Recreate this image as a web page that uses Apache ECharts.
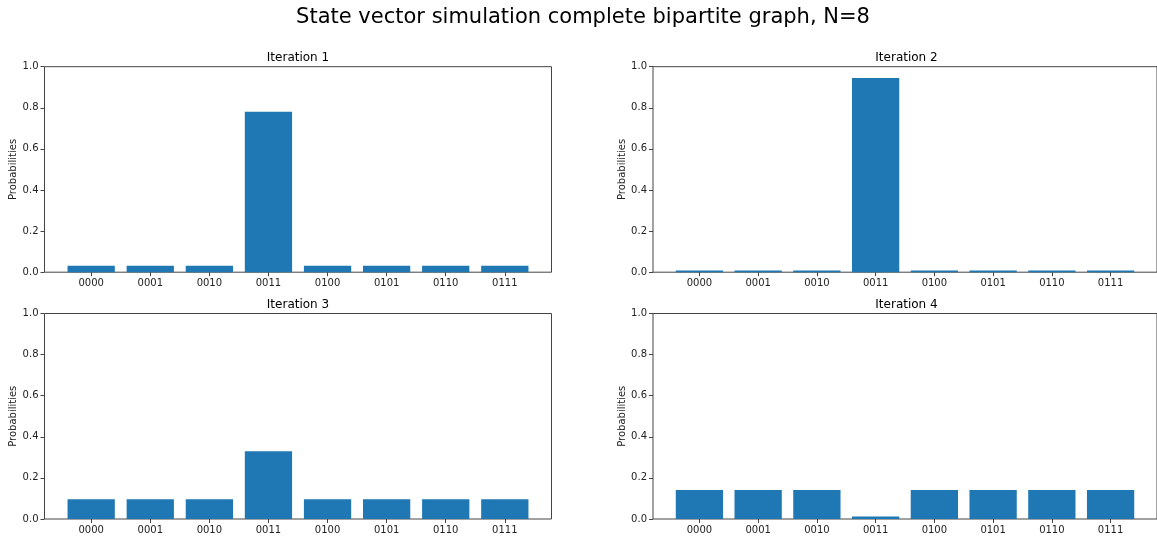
<!DOCTYPE html>
<html>
<head>
<meta charset="utf-8">
<script src="https://cdn.jsdelivr.net/npm/echarts@6/dist/echarts.min.js"></script>
<style>
  html, body { margin: 0; padding: 0; background: #fff; }
  #chart { width: 1157px; height: 537px; }
</style>
</head>
<body>
<div id="chart"></div>
<script>
var states = ["0000", "0001", "0010", "0011", "0100", "0101", "0110", "0111"];
var iter1 = [0.031, 0.031, 0.031, 0.781, 0.031, 0.031, 0.031, 0.031];
var iter2 = [0.008, 0.008, 0.008, 0.945, 0.008, 0.008, 0.008, 0.008];
var iter3 = [0.096, 0.096, 0.096, 0.330, 0.096, 0.096, 0.096, 0.096];
var iter4 = [0.141, 0.141, 0.141, 0.012, 0.141, 0.141, 0.141, 0.141];
var yTicks = [0, 0.2, 0.4, 0.6, 0.8, 1.0];

var panels = [
  { name: "Iteration 1", data: iter1 },
  { name: "Iteration 2", data: iter2 },
  { name: "Iteration 3", data: iter3 },
  { name: "Iteration 4", data: iter4 }
];

var font = "DejaVu Sans";
var plotW = 507, plotH = 205.5;
var lefts = [44.5, 653];
var tops = [66.7, 313.5];
var xMin = -0.79, xMax = 7.79;
// matplotlib bar width 0.8 in data units
var barW = 0.8 * plotW / (xMax - xMin);

var chart = echarts.init(document.getElementById("chart"));

var grids = [], xAxes = [], yAxes = [], series = [];
var titles = [{
  text: "State vector simulation complete bipartite graph, N=8",
  left: 583, top: 7, textAlign: "center", padding: 0,
  textStyle: { fontFamily: font, fontSize: 21, fontWeight: "normal", color: "#000" }
}];

panels.forEach(function (p, i) {
  var l = lefts[i % 2], t = tops[Math.floor(i / 2)];
  grids.push({
    left: l, top: t, width: plotW, height: plotH,
    show: true, borderColor: "#444", borderWidth: 1, backgroundColor: "#fff"
  });
  titles.push({
    text: p.name, left: l + plotW / 2, top: t - 15, textAlign: "center", padding: 0,
    textStyle: { fontFamily: font, fontSize: 12, fontWeight: "normal", color: "#000" }
  });
  xAxes.push({
    type: "value", gridIndex: i, min: xMin, max: xMax,
    axisLine: { show: false, onZero: false },
    splitLine: { show: false },
    axisTick: { show: true, length: 4, customValues: [0, 1, 2, 3, 4, 5, 6, 7], lineStyle: { color: "#444" } },
    axisLabel: {
      customValues: [0, 1, 2, 3, 4, 5, 6, 7], margin: 6,
      fontFamily: font, fontSize: 10, color: "#222",
      formatter: function (v) { return states[Math.round(v)]; }
    }
  });
  yAxes.push({
    type: "value", gridIndex: i, min: 0, max: 1, interval: 0.2,
    name: "Probabilities", nameLocation: "middle", nameGap: 25,
    nameTextStyle: { fontFamily: font, fontSize: 10, color: "#222" },
    axisLine: { show: false, onZero: false },
    splitLine: { show: false },
    axisTick: { show: true, length: 4, lineStyle: { color: "#444" } },
    axisLabel: {
      margin: 6, fontFamily: font, fontSize: 10, color: "#222",
      formatter: function (v) { return v.toFixed(1); }
    }
  });
  series.push({
    type: "bar", xAxisIndex: i, yAxisIndex: i, barWidth: barW,
    itemStyle: { color: "#1f77b4" },
    data: p.data.map(function (v, k) { return [k, v]; })
  });
});

chart.setOption({
  animation: false,
  title: titles,
  grid: grids,
  xAxis: xAxes,
  yAxis: yAxes,
  series: series
});
</script>
</body>
</html>
